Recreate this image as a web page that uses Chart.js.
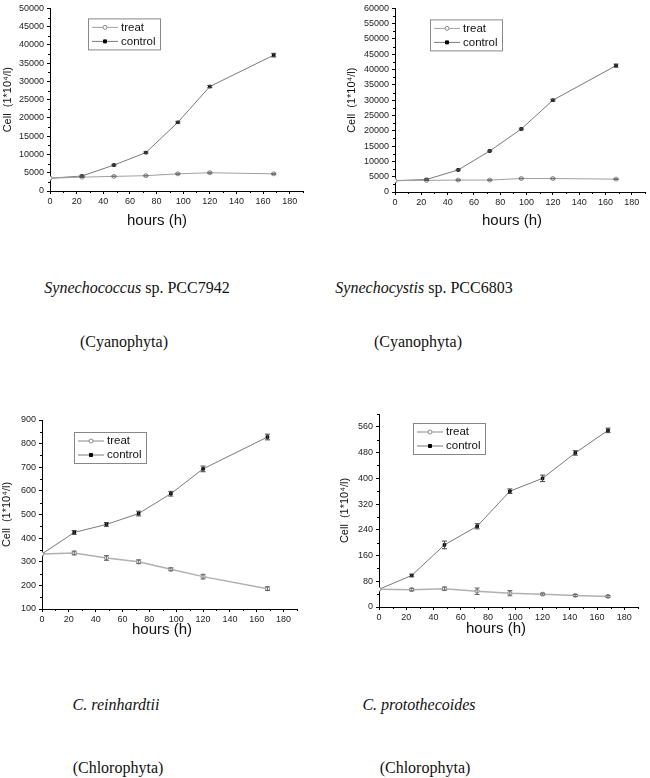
<!DOCTYPE html>
<html lang="en">
<head>
<meta charset="UTF-8" />
<title>Microalgae growth curves</title>
<script src="https://cdn.jsdelivr.net/npm/chart.js"></script>
<style>
  body {
    margin: 0;
    background: #fff;
    width: 650px;
    height: 778px;
    position: relative;
    overflow: hidden;
    font-family: 'Liberation Sans', Arial, sans-serif;
  }
  canvas { position: absolute; }
  .xtitle {
    position: absolute;
    font-size: 15px;
    line-height: 18px;
    color: #111;
    white-space: nowrap;
    transform: translateX(-50%);
  }
  .cap {
    position: absolute;
    font-family: 'Liberation Serif', 'Times New Roman', serif;
    font-size: 16px;
    line-height: 20px;
    color: #111;
    white-space: nowrap;
    transform: translateX(-50%);
  }
</style>
</head>
<body>

<canvas id="c1" width="320" height="235" style="left:0;top:0"></canvas>
<canvas id="c2" width="315" height="235" style="left:335px;top:0"></canvas>
<canvas id="c3" width="320" height="240" style="left:0;top:405px"></canvas>
<canvas id="c4" width="315" height="240" style="left:335px;top:405px"></canvas>

<div class="xtitle" style="left:157px;top:211px">hours (h)</div>
<div class="xtitle" style="left:512px;top:211px">hours (h)</div>
<div class="xtitle" style="left:162px;top:620px">hours (h)</div>
<div class="xtitle" style="left:496px;top:619px">hours (h)</div>

<div class="cap" style="left:137px;top:278px"><i>Synechococcus</i> sp. PCC7942</div>
<div class="cap" style="left:424px;top:278px"><i>Synechocystis</i> sp. PCC6803</div>
<div class="cap" style="left:124px;top:332px">(Cyanophyta)</div>
<div class="cap" style="left:418px;top:332px">(Cyanophyta)</div>
<div class="cap" style="left:116px;top:695px"><i>C. reinhardtii</i></div>
<div class="cap" style="left:419px;top:695px"><i>C. protothecoides</i></div>
<div class="cap" style="left:118px;top:758px">(Chlorophyta)</div>
<div class="cap" style="left:425px;top:758px">(Chlorophyta)</div>

<script>
  // sampling times (h)
  const hours = [0, 24, 48, 72, 96, 120, 168];
  const hoursProto = [0, 24, 48, 72, 96, 120, 144, 168];
  const seriesNames = ['treat', 'control'];

  // Synechococcus sp. PCC7942
  const s7942Treat = [3500, 3800, 4000, 4200, 4700, 5000, 4700];
  const s7942TreatErr = [0, 100, 100, 100, 150, 150, 150];
  const s7942Control = [3500, 4100, 7100, 10500, 18800, 28600, 37200];
  const s7942ControlErr = [0, 200, 200, 200, 250, 300, 500];

  // Synechocystis sp. PCC6803
  const s6803Treat = [3700, 3800, 3900, 3900, 4400, 4400, 4200];
  const s6803TreatErr = [0, 100, 100, 100, 100, 100, 100];
  const s6803Control = [3700, 4100, 7200, 13400, 20600, 30000, 41300];
  const s6803ControlErr = [0, 200, 200, 200, 250, 300, 500];

  // C. reinhardtii
  const reinTreat = [333, 337, 316, 300, 268, 237, 186];
  const reinTreatErr = [0, 8, 10, 8, 6, 10, 8];
  const reinControl = [333, 424, 458, 504, 588, 693, 828];
  const reinControlErr = [0, 8, 8, 10, 10, 12, 12];

  // C. protothecoides
  const protoTreat = [55, 54, 57, 49, 43, 40, 36, 33];
  const protoTreatErr = [0, 4, 5, 10, 8, 3, 3, 3];
  const protoControl = [55, 98, 193, 251, 360, 400, 479, 549];
  const protoControlErr = [0, 4, 12, 8, 7, 10, 7, 7];

  const toPoints = (xs, ys) => xs.map((x, i) => ({ x: x, y: ys[i] }));

  // minor ticks, error bars and the boxed legend
  const extras = {
    id: 'extras',
    afterDatasetsDraw(chart) {
      const ctx = chart.ctx;
      const xs = chart.scales.x, ys = chart.scales.y;
      ctx.save();
      chart.data.datasets.forEach((ds, di) => {
        if (!ds.err) return;
        ctx.strokeStyle = ds.errColor;
        ctx.lineWidth = 1;
        ds.data.forEach((p, i) => {
          const e = ds.err[i];
          if (!e) return;
          const px = xs.getPixelForValue(p.x);
          const y1 = ys.getPixelForValue(p.y - e);
          const y2 = ys.getPixelForValue(p.y + e);
          ctx.beginPath();
          ctx.moveTo(px, y1); ctx.lineTo(px, y2);
          ctx.moveTo(px - 2.5, y1); ctx.lineTo(px + 2.5, y1);
          ctx.moveTo(px - 2.5, y2); ctx.lineTo(px + 2.5, y2);
          ctx.stroke();
        });
      });
      ctx.restore();
    },
    afterDraw(chart, args, opts) {
      const ctx = chart.ctx;
      const xs = chart.scales.x, ys = chart.scales.y;
      ctx.save();
      ctx.strokeStyle = '#000';
      ctx.lineWidth = 1;
      ctx.beginPath();
      for (let v = xs.min; v <= xs.max; v += opts.xMinor) {
        if (v % (2 * opts.xMinor) === 0) continue;
        const px = Math.round(xs.getPixelForValue(v)) + 0.5;
        ctx.moveTo(px, xs.top); ctx.lineTo(px, xs.top + 2);
      }
      for (let v = ys.min; v <= ys.max; v += opts.yMinor) {
        if ((v - ys.min) % (2 * opts.yMinor) === 0) continue;
        const py = Math.round(ys.getPixelForValue(v)) + 0.5;
        ctx.moveTo(ys.right, py); ctx.lineTo(ys.right - 2, py);
      }
      ctx.stroke();

      // legend box
      const lx = chart.chartArea.left + opts.legendX;
      const ly = chart.chartArea.top + opts.legendY;
      ctx.strokeStyle = '#888';
      ctx.strokeRect(lx + 0.5, ly + 0.5, 72, 31);
      ctx.font = '11.5px "Liberation Sans", Arial, sans-serif';
      ctx.textBaseline = 'middle';
      chart.data.datasets.forEach((ds, i) => {
        const ry = ly + 9 + i * 14;
        ctx.strokeStyle = ds.borderColor;
        ctx.lineWidth = ds.borderWidth;
        ctx.beginPath();
        ctx.moveTo(lx + 4, ry); ctx.lineTo(lx + 30, ry);
        ctx.stroke();
        ctx.lineWidth = 1;
        ctx.fillStyle = ds.pointBackgroundColor;
        ctx.strokeStyle = ds.pointBorderColor;
        ctx.beginPath();
        if (ds.pointStyle === 'rect') {
          ctx.rect(lx + 15.5, ry - 1.5, 3, 3);
        } else {
          ctx.arc(lx + 17, ry, 2, 0, Math.PI * 2);
        }
        ctx.fill(); ctx.stroke();
        ctx.fillStyle = '#111';
        ctx.fillText(ds.label, lx + 33, ry);
      });
      ctx.restore();
    }
  };

  function makeChart(id, cfg) {
    const treatStyle = {
      label: seriesNames[0],
      data: toPoints(cfg.x, cfg.treat),
      err: cfg.treatErr,
      errColor: '#666',
      showLine: true,
      borderColor: cfg.treatColor,
      borderWidth: cfg.treatWidth,
      pointStyle: 'circle',
      pointRadius: 2,
      pointBackgroundColor: '#fff',
      pointBorderColor: '#888',
      pointBorderWidth: 1
    };
    const controlStyle = {
      label: seriesNames[1],
      data: toPoints(cfg.x, cfg.control),
      err: cfg.controlErr,
      errColor: '#444',
      showLine: true,
      borderColor: '#7a7a7a',
      borderWidth: 1,
      pointStyle: 'rect',
      pointRadius: 1.8,
      pointBackgroundColor: '#000',
      pointBorderColor: '#000',
      pointBorderWidth: 1
    };
    const tickFont = { family: '"Liberation Sans", Arial, sans-serif', size: 9 };
    const plain = v => String(v);
    return new Chart(document.getElementById(id), {
      type: 'scatter',
      data: { datasets: [treatStyle, controlStyle] },
      options: {
        responsive: false,
        animation: false,
        layout: { padding: { top: cfg.padTop, right: cfg.padRight, left: 0, bottom: 0 } },
        plugins: {
          legend: { display: false },
          tooltip: { enabled: false },
          extras: {
            xMinor: 10, yMinor: cfg.yMinor,
            legendX: cfg.legendX, legendY: cfg.legendY
          }
        },
        scales: {
          x: {
            type: 'linear',
            min: 0, max: 190,
            afterFit: s => { s.height = cfg.xHeight; },
            ticks: { stepSize: 20, includeBounds: false, color: '#222', font: tickFont, padding: 2, maxRotation: 0, callback: plain },
            grid: { display: true, drawOnChartArea: false, drawTicks: true, tickLength: 3, tickColor: '#000' },
            border: { display: true, color: '#000', width: 1 }
          },
          y: {
            type: 'linear',
            min: cfg.yMin, max: cfg.yMax,
            afterFit: s => { s.width = cfg.yWidth; },
            ticks: { stepSize: cfg.yStep, includeBounds: false, color: '#222', font: tickFont, padding: 3, callback: plain },
            grid: { display: true, drawOnChartArea: false, drawTicks: true, tickLength: 3, tickColor: '#000' },
            border: { display: true, color: '#000', width: 1 },
            title: {
              display: true,
              text: 'Cell  (1*10\u2074/l)',
              color: '#111',
              font: { family: '"Liberation Sans", Arial, sans-serif', size: 11 },
              padding: { top: cfg.yTitlePad, bottom: 0 }
            }
          }
        }
      },
      plugins: [extras]
    });
  }

  makeChart('c1', {
    x: hours, treat: s7942Treat, treatErr: s7942TreatErr,
    control: s7942Control, controlErr: s7942ControlErr,
    treatColor: '#a0a0a0', treatWidth: 1,
    yMin: 0, yMax: 50000, yStep: 5000, yMinor: 2500,
    yWidth: 50, xHeight: 44, padTop: 4, padRight: 17, yTitlePad: 1,
    legendX: 38, legendY: 10
  });

  makeChart('c2', {
    x: hours, treat: s6803Treat, treatErr: s6803TreatErr,
    control: s6803Control, controlErr: s6803ControlErr,
    treatColor: '#a0a0a0', treatWidth: 1,
    yMin: 0, yMax: 60000, yStep: 5000, yMinor: 2500,
    yWidth: 60, xHeight: 43, padTop: 4, padRight: 1, yTitlePad: 10,
    legendX: 35, legendY: 11
  });

  makeChart('c3', {
    x: hours, treat: reinTreat, treatErr: reinTreatErr,
    control: reinControl, controlErr: reinControlErr,
    treatColor: '#b0b0b0', treatWidth: 1.5,
    yMin: 100, yMax: 900, yStep: 100, yMinor: 50,
    yWidth: 42, xHeight: 36, padTop: 15, padRight: 23, yTitlePad: 0,
    legendX: 32, legendY: 12
  });

  makeChart('c4', {
    x: hoursProto, treat: protoTreat, treatErr: protoTreatErr,
    control: protoControl, controlErr: protoControlErr,
    treatColor: '#b0b0b0', treatWidth: 1.5,
    yMin: 0, yMax: 600, yStep: 80, yMinor: 40,
    yWidth: 44, xHeight: 38, padTop: 9, padRight: 12, yTitlePad: 3,
    legendX: 34, legendY: 9
  });
</script>
</body>
</html>
